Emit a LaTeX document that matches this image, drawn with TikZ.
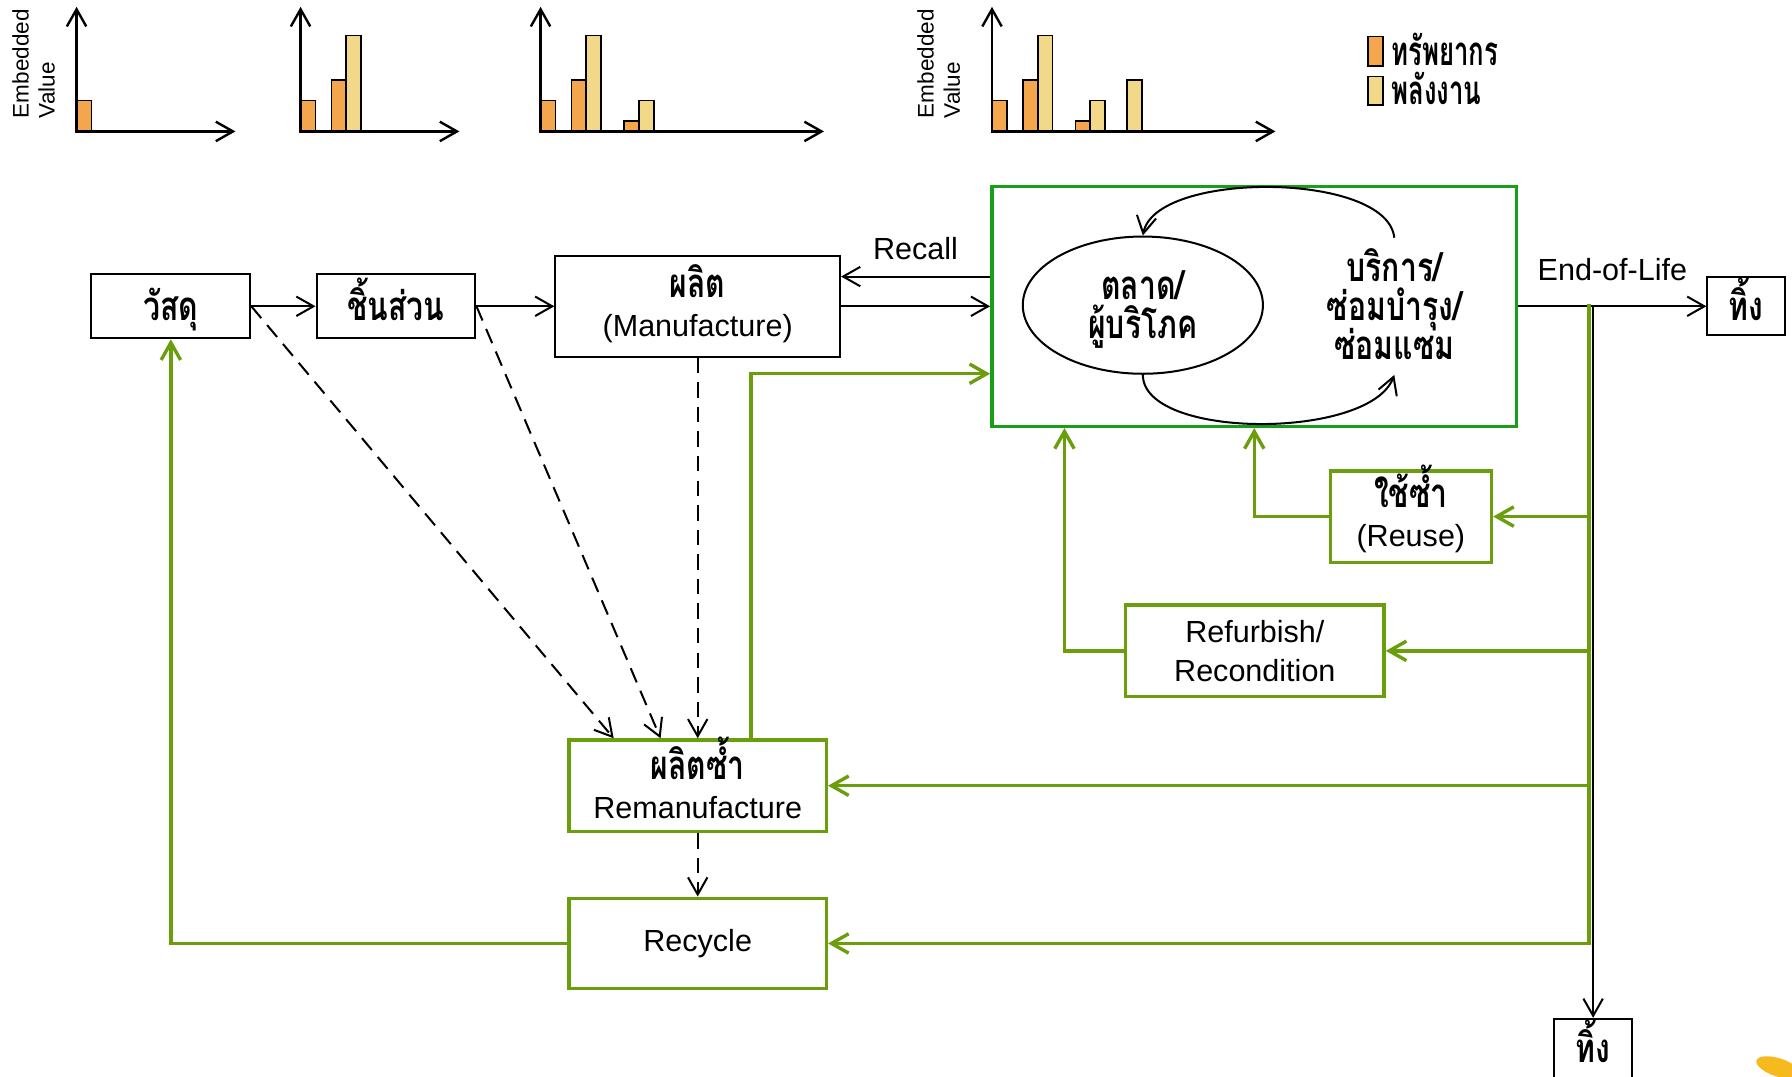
\documentclass[tikz,border=0pt]{standalone}
\usepackage{fontspec}
\setmainfont{Liberation Sans}
\newfontfamily\thaifont[Script=Thai,FakeStretch=0.75]{Loma}
\newfontfamily\thaileg[Script=Thai,FakeStretch=0.64]{Loma}
\usetikzlibrary{arrows.meta,shapes.geometric}

\definecolor{lifegreen}{RGB}{24,158,24}
\definecolor{loopgreen}{RGB}{106,158,12}
\definecolor{resorange}{RGB}{244,166,76}
\definecolor{energyyellow}{RGB}{242,217,138}
\definecolor{pencil}{RGB}{246,186,30}

\newcommand{\thaitxt}[1]{{\thaifont\bfseries\fontsize{10}{9.7}\selectfont\smash{#1}\rule{0pt}{6.85pt}}}
\newcommand{\legtxt}[1]{{\thaileg\bfseries\fontsize{10}{9.7}\selectfont\smash{#1}\rule{0pt}{6.85pt}}}

\tikzset{
  barb/.style={-{Straight Barb[length=1.5mm,width=1.7mm]}},
  arr/.style={barb, line width=0.5pt},
  darr/.style={arr, dash pattern=on 1.35mm off 0.8mm},
  garr/.style={barb, line width=0.85pt, loopgreen},
  axis/.style={{Straight Barb[length=1.5mm,width=1.7mm]}-{Straight Barb[length=1.5mm,width=1.7mm]}, line width=0.6pt},
  bar/.style={line width=0.4pt},
  box/.style={draw, line width=0.5pt, align=center, inner ysep=1pt},
  gbox/.style={draw=loopgreen, line width=0.85pt, align=center, inner ysep=1pt}
}

\begin{document}
\begin{tikzpicture}[x=0.01cm, y=-0.01cm, every node/.style={font=\fontsize{7.6}{9.7}\selectfont}]
  \useasboundingbox (0,0) rectangle (1568,942);
  \clip (0,0) rectangle (1568,942);

  % embedded value charts
  \foreach \x/\t in {67/88, 263/88, 290/70, 473/88, 500/70, 546/106, 868/88, 895/70, 941/106}
    \draw[bar, fill=resorange] (\x,115) rectangle (\x+13,\t);
  \foreach \x/\t in {303/31, 513/31, 559/88, 908/31, 954/88, 986/70}
    \draw[bar, fill=energyyellow] (\x,115) rectangle (\x+13,\t);
  \foreach \x/\xe in {67/206, 263/402, 473/721, 868/1116}
    \draw[axis] (\x,6) |- (\xe,115);

  \node[rotate=90, anchor=north west, inner sep=0, align=left, font=\fontsize{5.6}{6.5}\selectfont] (ylabA) at (10,104) {Embedded\\Value};
  \node[rotate=90, anchor=north west, inner sep=0, align=left, font=\fontsize{5.6}{6.5}\selectfont] (ylabB) at (802,104) {Embedded\\Value};

  % legend
  \draw[bar, fill=resorange] (1197,32) rectangle (1210,58);
  \draw[bar, fill=energyyellow] (1197,67) rectangle (1210,92);
  \node[anchor=west, inner sep=0] (resleg) at (1217,45) {\legtxt{ทรัพยากร}};
  \node[anchor=west, inner sep=0] (enleg) at (1217,79) {\legtxt{พลังงาน}};

  % main chain
  \node[box, minimum width=13.9mm, minimum height=5.6mm] (mat) at (149.5,268) {\thaitxt{วัสดุ}};
  \node[box, minimum width=13.9mm, minimum height=5.6mm] (part) at (346.5,268) {\thaitxt{ชิ้นส่วน}};
  \node[box, minimum width=24.9mm, minimum height=8.8mm] (mfg) at (610.5,268) {\thaitxt{ผลิต}\\(Manufacture)};
  \node[draw=lifegreen, line width=0.85pt, minimum width=45.9mm, minimum height=21mm] (life) at (1097.5,268) {};
  \node[draw, ellipse, line width=0.5pt, minimum width=21mm, minimum height=12mm, align=center] (market) at (1000,267) {\thaitxt{ตลาด/}\\\thaitxt{ผู้บริโภค}};
  \node[align=center] (service) at (1220,268) {\thaitxt{บริการ/}\\\thaitxt{ซ่อมบำรุง/}\\\thaitxt{ซ่อมแซม}};
  \node[box, minimum width=6.8mm, minimum height=5.1mm] (bin1) at (1528,268) {\thaitxt{ทิ้ง}};
  \node[box, minimum width=6.8mm, minimum height=5.2mm] (bin2) at (1394,917.5) {\thaitxt{ทิ้ง}};

  % recovery loops
  \node[gbox, minimum width=14.1mm, minimum height=8mm] (reuse) at (1234.5,452) {\thaitxt{ใช้ซ้ำ}\\(Reuse)};
  \node[gbox, minimum width=22.6mm, minimum height=8mm] (refurb) at (1098,569.5) {Refurbish/\\Recondition};
  \node[gbox, minimum width=22.5mm, minimum height=8mm] (reman) at (610.5,687.5) {\thaitxt{ผลิตซ้ำ}\\Remanufacture};
  \node[gbox, minimum width=22.5mm, minimum height=7.9mm] (recycle) at (610.5,825.5) {Recycle};

  \draw[arr] (mat) -- (part);
  \draw[arr] (part) -- (mfg);
  \draw[arr] (mfg) -- (life);
  \draw[arr] ([yshift=2.6mm]life.west) -- node[above=0.2mm] (recall) {Recall} ([yshift=2.6mm]mfg.east);
  \draw[arr] (life) -- node[above=1mm] (eol) {End-of-Life} (bin1);

  \draw[arr] ([yshift=6mm]service.center) .. controls +(-6,-58) and +(11,-57) .. (market.north);
  \draw[arr] (market.south) .. controls +(0,57) and +(-21,57) .. ([yshift=-6mm]service.center);

  \draw[darr] (mat.east) -- ([xshift=-7.35mm]reman.north);
  \draw[darr] (part.east) -- ([xshift=-3.25mm]reman.north);
  \draw[darr] (mfg) -- (reman);
  \draw[darr] (reman) -- (recycle);

  \coordinate (gtop) at (1390.5,266);
  \draw[garr] (gtop) |- (recycle);
  \draw[garr] (reuse.east -| gtop) -- (reuse);
  \draw[garr] (refurb.east -| gtop) -- (refurb);
  \draw[garr] (reman.east -| gtop) -- (reman);
  \draw[arr] (life.east -| bin2.north) -- (bin2.north);

  \draw[garr] (reuse) -| (life.south);
  \draw[garr] (refurb) -| ([xshift=6.5mm]life.south west);
  \draw[garr] ([xshift=4.65mm]reman.north) |- ([yshift=-5.9mm]life.west);
  \draw[garr] (recycle) -| (mat);

  \fill[pencil, rotate around={-18:(1556,934)}] (1556,934) ellipse (20 and 8);
\end{tikzpicture}
\end{document}
